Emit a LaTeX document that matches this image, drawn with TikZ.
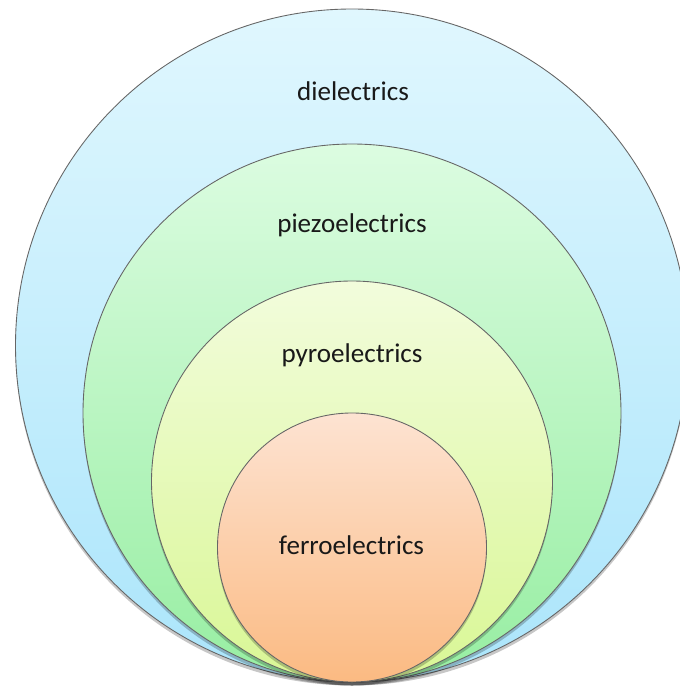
\documentclass[tikz,border=0pt]{standalone}
\usepackage{fontspec}
\setmainfont{Carlito}
\definecolor{dielTop}{HTML}{E0F7FE}
\definecolor{dielBot}{HTML}{ABE5FB}
\definecolor{piezoTop}{HTML}{DCFCE1}
\definecolor{piezoBot}{HTML}{97EEA2}
\definecolor{pyroTop}{HTML}{F2FCDC}
\definecolor{pyroBot}{HTML}{D9F795}
\definecolor{ferroTop}{HTML}{FDE3D2}
\definecolor{ferroBot}{HTML}{FBBA82}

\begin{document}
\begin{tikzpicture}[ring/.style={draw=black!60,line width=0.5pt},
    lbl/.style={anchor=base,font=\fontsize{15.4}{18}\selectfont,text=black!90}]
            \useasboundingbox (0,0) rectangle (13.6,-13.74);
            \clip (0,0) rectangle (13.6,-13.74);

            % nested rings, all touching at the bottom
            \foreach \r/\ctop/\cbot in {6.73/dielTop/dielBot,5.38/piezoTop/piezoBot,4.01/pyroTop/pyroBot,2.69/ferroTop/ferroBot}{
                \fill[black,opacity=0.22] (7.04,-13.64+\r-0.07) circle (\r);
                \shade[ring,top color=\ctop,bottom color=\cbot] (7.04,-13.64+\r) circle (\r);
            }

            \node[lbl] (diel) at (7.06,-2.01) {dielectrics};
            \node[lbl] (piezo) at (7.04,-4.64) {piezoelectrics};
            \node[lbl] (pyro) at (7.04,-7.24) {pyroelectrics};
            \node[lbl] (ferro) at (7.03,-11.08) {ferroelectrics};
        \end{tikzpicture}
\end{document}
